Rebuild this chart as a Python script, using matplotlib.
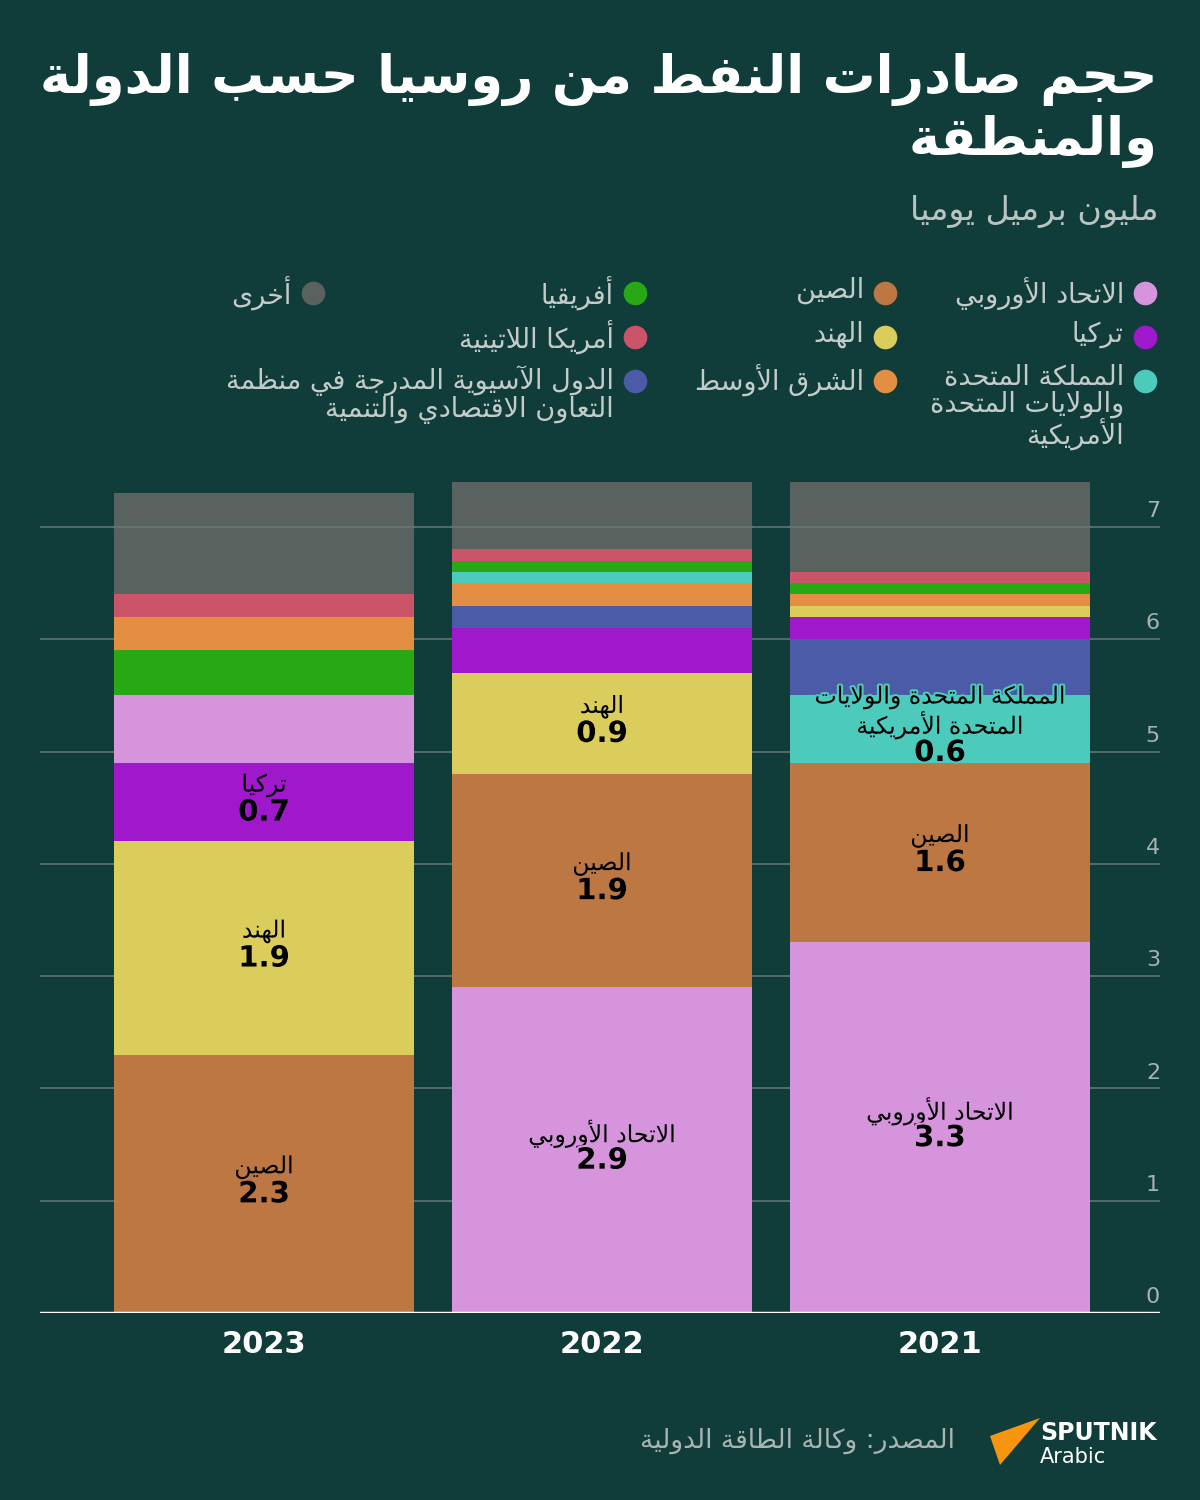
import matplotlib
matplotlib.use("Agg")
import matplotlib.pyplot as plt
import matplotlib.patheffects as pe
import numpy as np

# ---- data (million barrels / day) ----
years = ["2023", "2022", "2021"]
categories = ["EU", "China", "UKUS", "Turkey", "India", "OECDAsia",
              "MiddleEast", "Africa", "LatAm", "Others"]
values_2023 = [0.6, 2.3, 0.0, 0.7, 1.9, 0.0, 0.3, 0.4, 0.2, 0.9]
values_2022 = [2.9, 1.9, 0.1, 0.4, 0.9, 0.2, 0.2, 0.1, 0.1, 0.6]
values_2021 = [3.3, 1.6, 0.6, 0.2, 0.1, 0.5, 0.1, 0.1, 0.1, 0.8]
colors = ["#d694dc", "#bd7743", "#4ccabc", "#a018cc", "#dacd5c", "#4c5ba8",
          "#e48e43", "#27a814", "#cb5468", "#59625f"]
legend_names = ["الاتحاد الأوروبي", "الصين",
                "المملكة المتحدة\nوالولايات المتحدة\nالأمريكية",
                "تركيا", "الهند", "الدول الآسيوية المدرجة في منظمة\nالتعاون الاقتصادي والتنمية",
                "الشرق الأوسط", "أفريقيا", "أمريكا اللاتينية", "أخرى"]
bar_names = ["الاتحاد الأوروبي", "الصين", "المملكة المتحدة والولايات\nالمتحدة الأمريكية",
             "تركيا", "الهند", "", "", "", "", ""]
yticks = [0, 1, 2, 3, 4, 5, 6, 7]

BG = "#103c3a"

# ---- small Arabic shaper (matplotlib has no shaping / bidi) ----
LETTERS = "ءآأؤإئابةتثجحخدذرزسشصضطظعغفقكلمنهوىي"
NFORMS = [1, 2, 2, 2, 2, 4, 2, 4, 2, 4, 4, 4, 4, 4, 2, 2, 2, 2, 4, 4, 4, 4,
          4, 4, 4, 4, 4, 4, 4, 4, 4, 4, 4, 2, 2, 4]
FORMS = {}
cp = 0xFE80
for ch, n in zip(LETTERS, NFORMS):
    FORMS[ch] = tuple(chr(cp + k) for k in range(n))
    cp += n
LAM_ALEF = {"آ": ("\uFEF5", "\uFEF6"), "أ": ("\uFEF7", "\uFEF8"),
            "إ": ("\uFEF9", "\uFEFA"), "ا": ("\uFEFB", "\uFEFC")}


def shape_line(text):
    toks = []
    i = 0
    while i < len(text):
        c = text[i]
        if c == "ل" and i + 1 < len(text) and text[i + 1] in LAM_ALEF:
            toks.append(LAM_ALEF[text[i + 1]])
            i += 2
        elif c in FORMS:
            toks.append(FORMS[c])
            i += 1
        else:
            toks.append(c)
            i += 1
    out = []
    for k, t in enumerate(toks):
        if isinstance(t, str):
            out.append(t)
            continue
        if len(t) == 1:
            out.append(t[0])
            continue
        prev = toks[k - 1] if k > 0 else None
        nxt = toks[k + 1] if k + 1 < len(toks) else None
        jp = prev is not None and not isinstance(prev, str) and len(prev) == 4
        jn = len(t) == 4 and nxt is not None and not isinstance(nxt, str)
        if jp and jn:
            out.append(t[3])
        elif jp:
            out.append(t[1])
        elif jn:
            out.append(t[2])
        else:
            out.append(t[0])
    return "".join(out)[::-1]


def ar(text):
    return "\n".join(shape_line(l) for l in text.split("\n"))


plt.rcParams["font.family"] = ["DejaVu Sans"]

fig = plt.figure(figsize=(12, 15), dpi=100, facecolor=BG)

# overlay in pixel coordinates for title, legend, footer
ov = fig.add_axes([0, 0, 1, 1])
ov.set_xlim(0, 1200)
ov.set_ylim(1500, 0)
ov.axis("off")
ov.patch.set_alpha(0)

ov.text(1158, 80, ar("حجم صادرات النفط من روسيا حسب الدولة"), ha="right", va="center",
        fontsize=38, fontweight="bold", color="white")
ov.text(1158, 142, ar("والمنطقة"), ha="right", va="center",
        fontsize=38, fontweight="bold", color="white")
ov.text(1158, 211, ar("مليون برميل يوميا"), ha="right", va="center",
        fontsize=24, color="#b9c4c0")

# legend
leg_x = [1145, 885, 635, 313]
leg_y = [293, 337, 381]
leg_pos = {"EU": (0, 0), "Turkey": (0, 1), "UKUS": (0, 2),
           "China": (1, 0), "India": (1, 1), "MiddleEast": (1, 2),
           "Africa": (2, 0), "LatAm": (2, 1), "OECDAsia": (2, 2),
           "Others": (3, 0)}
for cat, col, name in zip(categories, colors, legend_names):
    c, r = leg_pos[cat]
    x, y = leg_x[c], leg_y[r]
    ov.plot([x], [y], marker="o", markersize=17, color=col, markeredgewidth=0)
    ov.text(x - 21, y - 16, ar(name), ha="right", va="top", multialignment="right",
            fontsize=19.5, color="#c3ccc8", linespacing=1.0)

# ---- chart ----
ax_left, ax_right = 40, 1160
y0_px, px_per_unit = 1313, 112.3
ymax = 7.5
ax_top = y0_px - ymax * px_per_unit
ax = fig.add_axes([ax_left / 1200, (1500 - y0_px) / 1500,
                   (ax_right - ax_left) / 1200, (y0_px - ax_top) / 1500])
ax.set_facecolor(BG)
ax.patch.set_alpha(0)
ax.set_ylim(0, ymax)
ax.set_xlim(-0.663, 2.651)
for s in ax.spines.values():
    s.set_visible(False)
ax.set_yticks([])
ax.set_xticks(range(len(years)))
ax.set_xticklabels(years, fontsize=22, fontweight="bold", color="white")
ax.tick_params(axis="x", length=0, pad=12)

for t in yticks:
    if t > 0:
        ax.axhline(t, color="#4f6a67", lw=1.5, zorder=0)
    ax.text(2.651, t + 0.14, str(t), ha="right", va="center", fontsize=16,
            color="#a6b3af", zorder=3)
ax.axhline(0, color="white", lw=2.5, zorder=4)

all_values = [values_2023, values_2022, values_2021]
bar_w = 0.888
px_per_pt = 100 / 72
for xi, vals in enumerate(all_values):
    order = [i for i in range(len(categories)) if categories[i] != "Others"]
    order = sorted(order, key=lambda i: -vals[i]) + [categories.index("Others")]
    order = [i for i in order if vals[i] > 0]
    bottom = 0
    labelled = [i for i in order if categories[i] != "Others"][:3]
    for i in order:
        ax.bar(xi, vals[i], bottom=bottom, width=bar_w, color=colors[i],
               edgecolor="none", zorder=2)
        if categories[i] == "Others":
            # faint gridline showing through the grey segment
            for t in yticks:
                if bottom < t < bottom + vals[i]:
                    ax.plot([xi - bar_w / 2, xi + bar_w / 2], [t, t],
                            color="#627371", lw=1.5, zorder=2.5)
        if i in labelled:
            mid = bottom + vals[i] / 2
            n = bar_names[i].count("\n") + 1
            L = 27
            halo = [pe.withStroke(linewidth=3, foreground=colors[i])]
            ax.annotate(ar(bar_names[i]), (xi, mid),
                        xytext=(0, (L / 2 + 3) / px_per_pt), textcoords="offset points",
                        ha="center", va="center", fontsize=17, color="black",
                        linespacing=1.05, path_effects=halo, zorder=5)
            ax.annotate(f"{vals[i]:.1f}", (xi, mid),
                        xytext=(0, -(n * L / 2 - 3) / px_per_pt), textcoords="offset points",
                        ha="center", va="center", fontsize=21, fontweight="bold",
                        color="black", path_effects=halo, zorder=5)
        bottom += vals[i]

# ---- footer ----
ov.text(955, 1441, ar("المصدر: وكالة الطاقة الدولية"), ha="right", va="center",
        fontsize=19, color="#a9b5b1")
ov.fill([990, 1040, 1000], [1436, 1418, 1465], color="#f7960e", lw=0)
ov.text(1040, 1433, "SPUTNIK", ha="left", va="center", fontsize=17,
        fontweight="bold", color="white")
ov.text(1040, 1457, "Arabic", ha="left", va="center", fontsize=15, color="white")

fig.savefig("out.png", dpi=100, facecolor=BG)
